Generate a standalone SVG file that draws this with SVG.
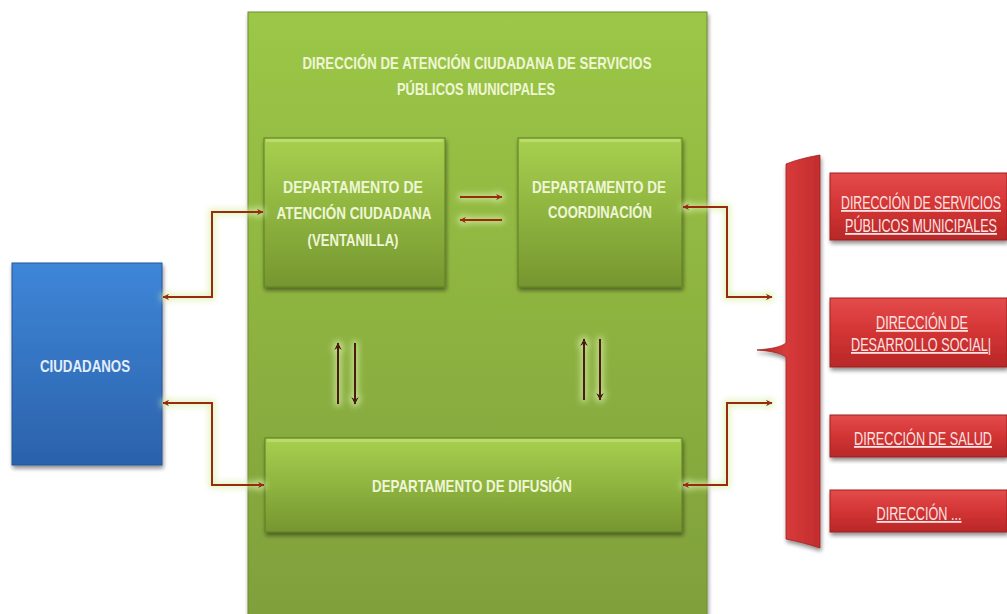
<svg xmlns="http://www.w3.org/2000/svg" width="1007" height="614" viewBox="0 0 1007 614">
  <defs>
    <linearGradient id="gMain" x1="0" y1="0" x2="0" y2="1">
      <stop offset="0" stop-color="#9cc746"/>
      <stop offset="1" stop-color="#7f9f3b"/>
    </linearGradient>
    <linearGradient id="gDept" x1="0" y1="0" x2="0" y2="1">
      <stop offset="0" stop-color="#a8d04f"/>
      <stop offset="0.55" stop-color="#8cb13e"/>
      <stop offset="1" stop-color="#76962f"/>
    </linearGradient>
    <linearGradient id="gBlue" x1="0" y1="0" x2="0" y2="1">
      <stop offset="0" stop-color="#3e86d8"/>
      <stop offset="1" stop-color="#2b62ab"/>
    </linearGradient>
    <linearGradient id="gRed" x1="0" y1="0" x2="0" y2="1">
      <stop offset="0" stop-color="#e44b4b"/>
      <stop offset="0.5" stop-color="#d33434"/>
      <stop offset="1" stop-color="#b82828"/>
    </linearGradient>
    <linearGradient id="gBrace" x1="0" y1="0" x2="1" y2="0">
      <stop offset="0" stop-color="#b52626"/>
      <stop offset="0.45" stop-color="#d93b3b"/>
      <stop offset="1" stop-color="#c22d2d"/>
    </linearGradient>
    <filter id="shadow" x="-10%" y="-10%" width="125%" height="125%">
      <feGaussianBlur in="SourceAlpha" stdDeviation="2"/>
      <feOffset dx="1" dy="3" result="b"/>
      <feComponentTransfer><feFuncA type="linear" slope="0.45"/></feComponentTransfer>
      <feMerge><feMergeNode/><feMergeNode in="SourceGraphic"/></feMerge>
    </filter>
    <filter id="glow" x="-20%" y="-20%" width="140%" height="140%">
      <feMorphology in="SourceAlpha" operator="dilate" radius="2" result="d"/>
      <feGaussianBlur in="d" stdDeviation="3" result="bl"/>
      <feFlood flood-color="#d9efaa" flood-opacity="0.8"/>
      <feComposite in2="bl" operator="in" result="g"/>
      <feMerge><feMergeNode in="g"/><feMergeNode in="SourceGraphic"/></feMerge>
    </filter>
    <marker id="ah" viewBox="0 0 10 10" refX="9" refY="5" markerWidth="7" markerHeight="7" markerUnits="userSpaceOnUse" orient="auto-start-reverse">
      <path d="M0,0 L10,5 L0,10 L3,5 Z" fill="#9a2b0e"/>
    </marker>
    <marker id="ahd" viewBox="0 0 10 10" refX="9" refY="5" markerWidth="8" markerHeight="8" markerUnits="userSpaceOnUse" orient="auto-start-reverse">
      <path d="M0,0 L10,5 L0,10 L3,5 Z" fill="#4a1d0c"/>
    </marker>
  </defs>
  <style>
    .lbl { font-family: "Liberation Sans", Arial, sans-serif; font-weight: bold; fill: #eef6d6; text-anchor: middle; }
    .red { font-family: "Liberation Sans", Arial, sans-serif; fill: #fbe3e3; text-anchor: middle; text-decoration: underline; }
    .dept { fill: url(#gDept); stroke: #5f7d25; stroke-width: 1; }
    .conn { fill: none; stroke: #9a2b0e; stroke-width: 2; marker-start: url(#ah); marker-end: url(#ah); }
    .flow { fill: none; stroke: #9a2b0e; stroke-width: 2; marker-end: url(#ah); }
    .vflow { fill: none; stroke: #4a1d0c; stroke-width: 2; marker-end: url(#ahd); }
    .rbox { fill: url(#gRed); stroke: #9e2020; stroke-width: 1; }
  </style>

  <rect width="1007" height="614" fill="#ffffff"/>

  <!-- outer directorate panel -->
  <g id="direccion">
    <rect x="248" y="12" width="459" height="612" fill="url(#gMain)" stroke="#6f8d2f" stroke-width="1" filter="url(#shadow)"/>
    <text class="lbl" font-size="17" textLength="349" lengthAdjust="spacingAndGlyphs" x="477" y="69">DIRECCIÓN DE ATENCIÓN  CIUDADANA DE SERVICIOS</text>
    <text class="lbl" font-size="17" textLength="158" lengthAdjust="spacingAndGlyphs" x="476" y="95">PÚBLICOS MUNICIPALES</text>
  </g>

  <!-- citizens -->
  <g id="ciudadanos">
    <rect x="12" y="263" width="150" height="202" fill="url(#gBlue)" stroke="#245496" stroke-width="1" filter="url(#shadow)"/>
    <text class="lbl" style="fill:#e3eefa" font-size="17" textLength="90" lengthAdjust="spacingAndGlyphs" x="85" y="372">CIUDADANOS</text>
  </g>

  <!-- service window department -->
  <g id="dep-atencion">
    <rect class="dept" x="264" y="138" width="181" height="149" filter="url(#shadow)"/>
    <rect x="266" y="139" width="177" height="3" fill="#c3e07a" opacity="0.7"/>
    <text class="lbl" font-size="17" textLength="140" lengthAdjust="spacingAndGlyphs" x="353" y="193">DEPARTAMENTO DE</text>
    <text class="lbl" font-size="17" textLength="155" lengthAdjust="spacingAndGlyphs" x="354" y="219">ATENCIÓN CIUDADANA</text>
    <text class="lbl" font-size="17" textLength="91" lengthAdjust="spacingAndGlyphs" x="353" y="246">(VENTANILLA)</text>
  </g>

  <!-- coordination department -->
  <g id="dep-coordinacion">
    <rect class="dept" x="518" y="138" width="164" height="149" filter="url(#shadow)"/>
    <rect x="520" y="139" width="160" height="3" fill="#c3e07a" opacity="0.7"/>
    <text class="lbl" font-size="17" textLength="134" lengthAdjust="spacingAndGlyphs" x="599" y="193">DEPARTAMENTO DE</text>
    <text class="lbl" font-size="17" textLength="104" lengthAdjust="spacingAndGlyphs" x="600" y="218">COORDINACIÓN</text>
  </g>

  <!-- diffusion department -->
  <g id="dep-difusion">
    <rect class="dept" x="265" y="438" width="417" height="94" filter="url(#shadow)"/>
    <rect x="267" y="439" width="413" height="3" fill="#c3e07a" opacity="0.7"/>
    <text class="lbl" font-size="17" textLength="200" lengthAdjust="spacingAndGlyphs" x="472" y="492">DEPARTAMENTO DE DIFUSIÓN</text>
  </g>

  <!-- brace grouping the external directorates -->
  <g id="llave">
    <path d="M820,155 L820,548 C808,544 796,541 786,539 L786,357 C781,353 771,351 757,350 C771,349 781,347 786,343 L786,164 C796,160 808,157 820,155 Z" fill="url(#gBrace)" stroke="#a02222" stroke-width="0.8" filter="url(#shadow)"/>
  </g>

  <g id="dir-servicios">
    <rect class="rbox" x="830" y="173" width="177" height="67" filter="url(#shadow)"/>
    <text class="red" font-size="18" textLength="160" lengthAdjust="spacingAndGlyphs" x="921" y="209">DIRECCIÓN DE SERVICIOS</text>
    <text class="red" font-size="18" textLength="152" lengthAdjust="spacingAndGlyphs" x="921" y="232">PÚBLICOS MUNICIPALES</text>
  </g>

  <g id="dir-desarrollo">
    <rect class="rbox" x="830" y="298" width="177" height="69" filter="url(#shadow)"/>
    <text class="red" font-size="18" textLength="92" lengthAdjust="spacingAndGlyphs" x="922" y="329">DIRECCIÓN DE</text>
    <text class="red" font-size="18" textLength="140" lengthAdjust="spacingAndGlyphs" x="921" y="351">DESARROLLO SOCIAL|</text>
  </g>

  <g id="dir-salud">
    <rect class="rbox" x="830" y="415" width="177" height="42" filter="url(#shadow)"/>
    <text class="red" font-size="18" textLength="138" lengthAdjust="spacingAndGlyphs" x="923" y="445">DIRECCIÓN DE SALUD</text>
  </g>

  <g id="dir-otra">
    <rect class="rbox" x="830" y="490" width="177" height="42" filter="url(#shadow)"/>
    <text class="red" font-size="18" textLength="85" lengthAdjust="spacingAndGlyphs" x="919" y="520">DIRECCIÓN ...</text>
  </g>

  <!-- connectors -->
  <g id="conectores" filter="url(#glow)">
    <polyline class="conn" points="263,212 212,212 212,297 163,297"/>
    <polyline class="conn" points="163,403 212,403 212,485 264,485"/>
    <polyline class="conn" points="683,207 727,207 727,297 772,297"/>
    <polyline class="conn" points="683,485 727,485 727,403 772,403"/>
    <line class="flow" x1="460" y1="197" x2="502" y2="197"/>
    <line class="flow" x1="502" y1="220" x2="460" y2="220"/>
    <line class="vflow" x1="338" y1="404" x2="338" y2="343"/>
    <line class="vflow" x1="355" y1="343" x2="355" y2="404"/>
    <line class="vflow" x1="584" y1="400" x2="584" y2="339"/>
    <line class="vflow" x1="600" y1="339" x2="600" y2="400"/>
  </g>
</svg>
